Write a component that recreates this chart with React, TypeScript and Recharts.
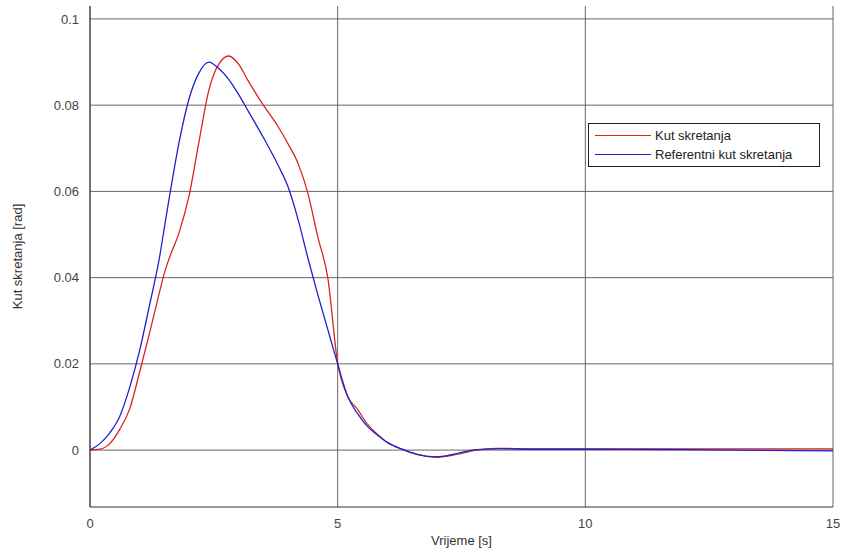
import React from 'react';
import { LineChart, Line, XAxis, YAxis, CartesianGrid } from 'recharts';

const time = [0, 0.2, 0.4, 0.6, 0.8, 1.0, 1.2, 1.4, 1.5, 1.6, 1.8, 2.0, 2.2, 2.4, 2.6, 2.8, 3.0, 3.2, 3.5, 3.8, 4.0, 4.2, 4.4, 4.6, 4.8, 5.0, 5.2, 5.4, 5.6, 5.8, 6.0, 6.3, 6.6, 7.0, 7.4, 7.8, 8.2, 9, 10, 12, 15];
const kut = [0, 0.0002, 0.0015, 0.0048, 0.0095, 0.018, 0.027, 0.0365, 0.041, 0.0445, 0.0505, 0.059, 0.0715, 0.0835, 0.0895, 0.0914, 0.0895, 0.0855, 0.08, 0.075, 0.071, 0.0665, 0.0595, 0.0494, 0.04, 0.0202, 0.0125, 0.0095, 0.006, 0.0037, 0.0018, 0.0002, -0.001, -0.0016, -0.001, 0, 0.0004, 0.0003, 0.0003, 0.0003, 0.0003];
const refKut = [0, 0.0015, 0.004, 0.0078, 0.0145, 0.023, 0.0335, 0.0445, 0.0515, 0.0585, 0.0715, 0.0815, 0.0875, 0.09, 0.0885, 0.086, 0.0825, 0.0785, 0.0725, 0.066, 0.061, 0.0535, 0.0445, 0.036, 0.028, 0.02, 0.0125, 0.0085, 0.0055, 0.0035, 0.0018, 0.0002, -0.001, -0.0016, -0.0008, 0.0001, 0.0003, 0.0002, 0.0002, 0.0001, -0.0002];
const xTicks = [0, 5, 10, 15];
const yTicks = [0, 0.02, 0.04, 0.06, 0.08, 0.1];
const seriesNames = ['Kut skretanja', 'Referentni kut skretanja'];
const seriesColors = ['#dd2222', '#2222cc'];

const data = time.map((t, i) => ({ t, kut: kut[i], ref: refKut[i] }));

const font = 'Liberation Sans, Arial, sans-serif';

export default function App() {
  return (
    <div style={{ position: 'absolute', left: 0, top: 0, width: 845, height: 550, background: '#fff' }}>
      <LineChart width={845} height={550} data={data} margin={{ top: 6, right: 12, left: 0, bottom: 0 }}>
        <CartesianGrid stroke="#666" strokeWidth={1} horizontalValues={yTicks} verticalValues={xTicks} />
        <XAxis
          dataKey="t"
          type="number"
          domain={[0, 15]}
          ticks={xTicks}
          height={43}
          tickLine={false}
          axisLine={{ stroke: '#333' }}
          tick={{ fill: '#444', fontSize: 13, fontFamily: font }}
          tickMargin={6}
          label={{ value: 'Vrijeme [s]', position: 'insideBottom', offset: 5, fill: '#333', fontSize: 13, fontFamily: font }}
        />
        <XAxis xAxisId="top" dataKey="t" type="number" domain={[0, 15]} orientation="top" height={0} tick={false} tickLine={false} axisLine={{ stroke: '#333' }} />
        <YAxis
          type="number"
          domain={[-0.0132, 0.103]}
          ticks={yTicks}
          width={90}
          tickLine={false}
          axisLine={{ stroke: '#333' }}
          tick={{ fill: '#444', fontSize: 13, fontFamily: font }}
          tickFormatter={(v: number) => String(Math.round(v * 100) / 100)}
          tickMargin={5}
          allowDataOverflow
          label={{ value: 'Kut skretanja [rad]', angle: -90, position: 'insideLeft', offset: 17, fill: '#333', fontSize: 13, fontFamily: font, style: { textAnchor: 'middle' } }}
        />
        <YAxis yAxisId="right" orientation="right" type="number" domain={[-0.0132, 0.103]} width={0} tick={false} tickLine={false} axisLine={{ stroke: '#333' }} />
        <Line type="monotone" dataKey="kut" name={seriesNames[0]} stroke={seriesColors[0]} strokeWidth={1.3} dot={false} isAnimationActive={false} />
        <Line type="monotone" dataKey="ref" name={seriesNames[1]} stroke={seriesColors[1]} strokeWidth={1.3} dot={false} isAnimationActive={false} />
      </LineChart>
      <div style={{ position: 'absolute', left: 588, top: 123, border: '1px solid #222', background: '#fff', padding: '2px 6px', fontFamily: font, fontSize: 13, color: '#222', width: 218, boxSizing: 'content-box' }}>
        {seriesNames.map((n, i) => (
          <div key={n} style={{ display: 'flex', alignItems: 'center', height: 19 }}>
            <div style={{ width: 56, height: 0, borderTop: `1.5px solid ${seriesColors[i]}`, marginRight: 4 }} />
            <span>{n}</span>
          </div>
        ))}
      </div>
    </div>
  );
}
